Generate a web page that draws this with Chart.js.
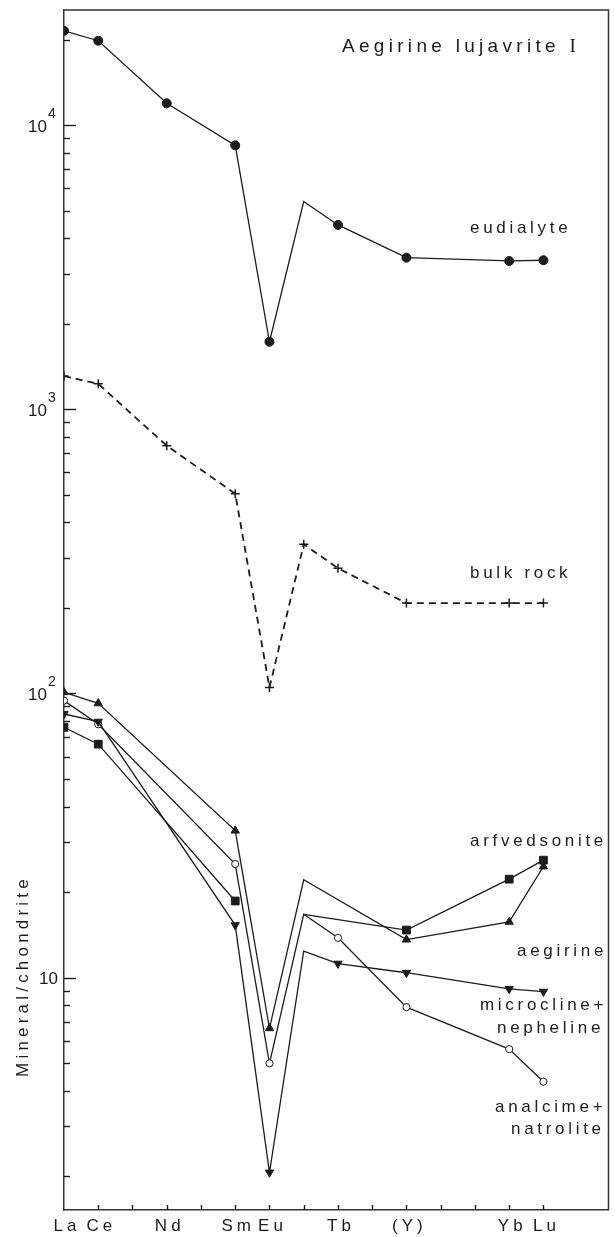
<!DOCTYPE html>
<html>
<head>
<meta charset="utf-8">
<script src="https://cdn.jsdelivr.net/npm/chart.js@4.4.1/dist/chart.umd.min.js"></script>
<style>
  html, body { margin: 0; padding: 0; background: #fff; }
  #wrap { width: 615px; height: 1237px; position: relative; }
</style>
</head>
<body>
<div id="wrap"><canvas id="c" width="615" height="1237"></canvas></div>
<script>
// Rare-earth elements in atomic-number order (x position = index)
const elements = ['La', 'Ce', 'Pr', 'Nd', 'Pm', 'Sm', 'Eu', 'Gd', 'Tb', 'Dy', 'Ho', 'Er', 'Tm', 'Yb', 'Lu'];
const tickLabels = ['La', 'Ce', '', 'Nd', '', 'Sm', 'Eu', '', 'Tb', '', '(Y)', '', '', 'Yb', 'Lu'];
const decadeLabels = [10, 100, 1000, 10000];

// Chondrite-normalised abundances.
// null = not determined (line runs straight past), NaN = missing value that breaks the line.
const eudialyte           = [21500, 19850, null, 11950, null, 8500, 1730, 5390, 4460, null, 3420, null, null, 3330, 3350];
const bulkRock            = [1310, 1230, null, 745, null, 505, 105, 335, 276, null, 208, null, null, 208, 208];
const arfvedsonite        = [76.0, 66.3, null, null, null, 18.6, NaN, 16.7, null, null, 14.7, null, null, 22.2, 25.9];
const aegirine            = [101, 92.3, null, null, null, 32.9, 6.63, 22.1, null, null, 13.6, null, null, 15.7, 24.6];
const microclineNepheline = [84.7, 79.6, null, null, null, 15.3, 2.06, 12.4, 11.2, null, 10.4, null, null, 9.12, 8.92];
const analcimeNatrolite   = [94.4, 77.9, null, null, null, 25.1, 4.99, 16.7, 13.8, null, 7.87, null, null, 5.60, 4.30];

const GD = elements.indexOf('Gd'); // Gd is interpolated and carries no symbol

const SANS = '"Liberation Sans", Arial, Helvetica, sans-serif';
const SERIF = '"Liberation Serif", "Times New Roman", serif';
const INK = '#1c1c1c';

function toPoints(arr) {
  const pts = [];
  arr.forEach((v, i) => {
    if (v === null) return;
    pts.push({ x: i, y: Number.isNaN(v) ? null : v });
  });
  return pts;
}

function series(values, style, hideGd = true) {
  const r = style.radius;
  return Object.assign({
    data: toPoints(values),
    borderColor: INK,
    borderWidth: 1.3,
    pointBorderColor: INK,
    pointBackgroundColor: INK,
    pointBorderWidth: 1,
    spanGaps: false,
    tension: 0,
    fill: false,
    pointRadius: ctx => (hideGd && ctx.raw && ctx.raw.x === GD) ? 0 : r
  }, style);
}

const datasets = [
  series(eudialyte, { label: 'eudialyte', pointStyle: 'circle', radius: 4.5 }),
  series(bulkRock, { label: 'bulk rock', pointStyle: 'cross', radius: 4.5, borderDash: [7, 5], borderWidth: 1.8, pointBorderWidth: 1.5 }, false),
  series(arfvedsonite, { label: 'arfvedsonite', pointStyle: 'rect', radius: 5.5 }),
  series(aegirine, { label: 'aegirine', pointStyle: 'triangle', radius: 4.8 }),
  series(microclineNepheline, { label: 'microcline+nepheline', pointStyle: 'triangle', rotation: 180, radius: 4.8 }),
  series(analcimeNatrolite, { label: 'analcime+natrolite', pointStyle: 'circle', radius: 3.6, pointBackgroundColor: '#fff', pointBorderWidth: 1 })
];

// Series names written next to their curves
const curveNames = [
  { text: 'eudialyte', x: 470, y: 233 },
  { text: 'bulk rock', x: 470, y: 578 },
  { text: 'arfvedsonite', x: 470, y: 846 },
  { text: 'aegirine', x: 517, y: 956 },
  { text: 'microcline+', x: 480, y: 1010 },
  { text: 'nepheline', x: 497, y: 1033 },
  { text: 'analcime+', x: 495, y: 1112 },
  { text: 'natrolite', x: 511, y: 1134 }
];

const spacedTicks = {
  id: 'spacedTicks',
  beforeDraw(chart) { chart.ctx.letterSpacing = '4px'; },
  afterDraw(chart) { chart.ctx.letterSpacing = '0px'; }
};

const frame = {
  id: 'frame',
  afterDraw(chart) {
    const { ctx, chartArea: a, scales: { x, y } } = chart;
    ctx.save();
    ctx.strokeStyle = '#333';
    ctx.lineWidth = 1.5;
    // top and right edges of the box
    ctx.beginPath();
    ctx.moveTo(a.left, a.top);
    ctx.lineTo(a.right, a.top);
    ctx.lineTo(a.right, a.bottom);
    ctx.stroke();

    // inward ticks on the log axis: long at decades, short at 2..9
    ctx.lineWidth = 1.4;
    ctx.strokeStyle = INK;
    for (let k = 0; k <= 4; k++) {
      for (let m = 1; m <= 9; m++) {
        const v = m * Math.pow(10, k);
        if (v < y.min || v > y.max) continue;
        const py = Math.round(y.getPixelForValue(v)) + 0.5;
        ctx.beginPath();
        ctx.moveTo(a.left, py);
        ctx.lineTo(a.left + (m === 1 ? 12 : 6), py);
        ctx.stroke();
      }
    }
    // inward ticks on the element axis
    for (let i = 1; i < elements.length; i++) {
      const px = Math.round(x.getPixelForValue(i)) + 0.5;
      ctx.beginPath();
      ctx.moveTo(px, a.bottom);
      ctx.lineTo(px, a.bottom - 5);
      ctx.stroke();
    }

    // decade labels written as powers of ten
    ctx.fillStyle = INK;
    ctx.letterSpacing = '0px';
    decadeLabels.forEach(v => {
      const py = y.getPixelForValue(v);
      const exp = Math.round(Math.log10(v));
      ctx.font = '17px ' + SANS;
      if (exp === 1) {
        ctx.textAlign = 'right';
        ctx.textBaseline = 'alphabetic';
        ctx.fillText('10', 58, py + 6.5);
      } else {
        ctx.textAlign = 'right';
        ctx.textBaseline = 'alphabetic';
        ctx.fillText('10', 47, py + 6.5);
        ctx.font = '14px ' + SANS;
        ctx.textAlign = 'left';
        ctx.fillText(String(exp), 48, py - 7);
      }
    });

    // axis title
    ctx.save();
    ctx.translate(28, 976);
    ctx.rotate(-Math.PI / 2);
    ctx.font = '17px ' + SANS;
    ctx.letterSpacing = '4.2px';
    ctx.textAlign = 'center';
    ctx.textBaseline = 'alphabetic';
    ctx.fillText('Mineral/chondrite', 0, 0);
    ctx.restore();

    // panel title
    ctx.textAlign = 'left';
    ctx.textBaseline = 'alphabetic';
    ctx.font = '19px ' + SANS;
    ctx.letterSpacing = '4.3px';
    const head = 'Aegirine lujavrite ';
    ctx.fillText(head, 342, 52);
    const w = ctx.measureText(head).width;
    ctx.font = '19px ' + SERIF;
    ctx.fillText('I', 342 + w, 52);

    // curve names
    ctx.font = '17px ' + SANS;
    ctx.letterSpacing = '3.7px';
    curveNames.forEach(t => ctx.fillText(t.text, t.x, t.y));
    ctx.restore();
  }
};

new Chart(document.getElementById('c'), {
  type: 'line',
  data: { datasets },
  plugins: [spacedTicks, frame],
  options: {
    responsive: false,
    animation: false,
    devicePixelRatio: 1,
    layout: { padding: { top: 10, right: 2, left: 0, bottom: 0 } },
    plugins: { legend: { display: false }, tooltip: { enabled: false } },
    scales: {
      x: {
        type: 'linear',
        position: 'bottom',
        min: 0,
        max: 15.9,
        grid: { display: false, drawTicks: false },
        border: { display: true, color: '#333', width: 1.5 },
        ticks: {
          stepSize: 1,
          autoSkip: false,
          maxRotation: 0,
          padding: 6,
          labelOffset: 3,
          color: INK,
          font: { family: SANS, size: 17 },
          callback: v => Number.isInteger(v) ? (tickLabels[v] || '') : ''
        },
        afterFit: s => { s.height = 27; }
      },
      y: {
        type: 'logarithmic',
        position: 'left',
        min: 1.52,
        max: 25460,
        grid: { display: false, drawTicks: false },
        border: { display: true, color: '#333', width: 1.5 },
        ticks: { display: false },
        afterFit: s => { s.width = 64; }
      }
    }
  }
});
</script>
</body>
</html>
